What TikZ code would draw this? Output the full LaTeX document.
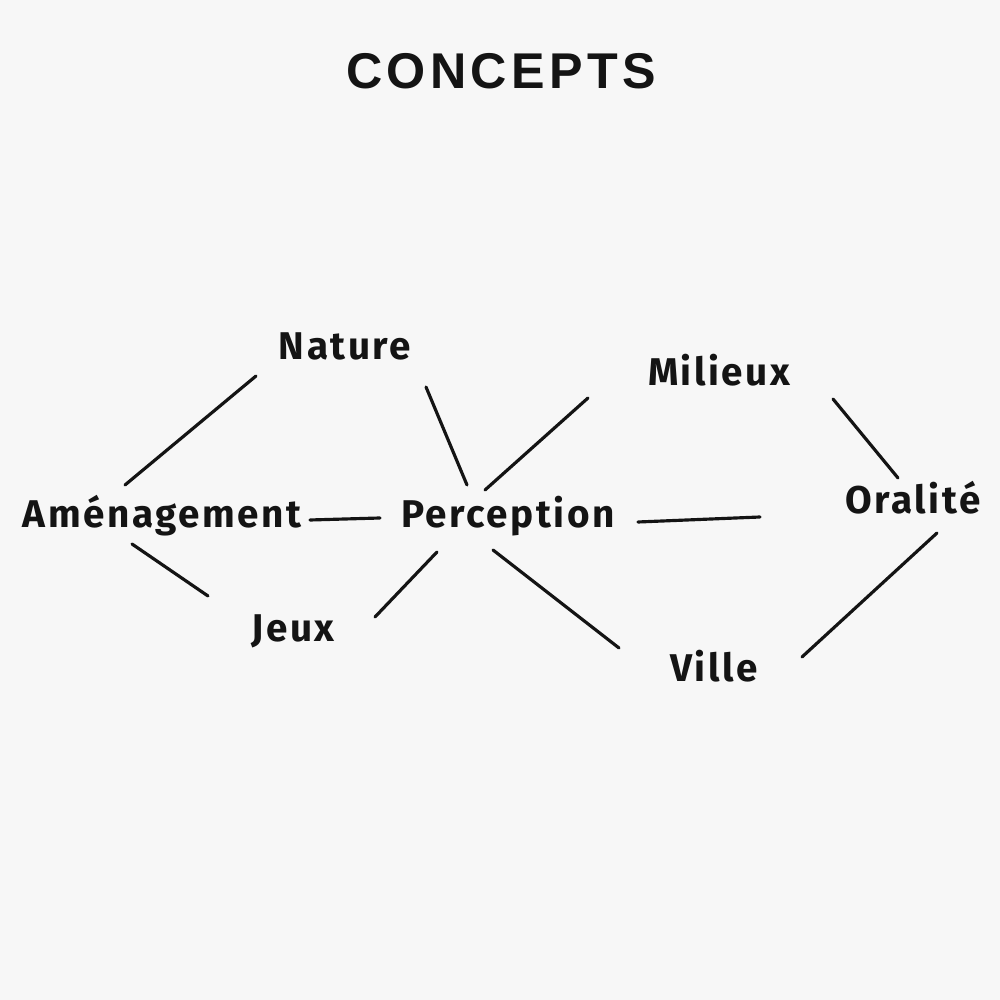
\documentclass[tikz,border=0pt]{standalone}
\usepackage{fontspec}
\newfontfamily\titlefont[LetterSpace=8.5]{Liberation Sans}
\newfontfamily\conceptfont[LetterSpace=6.5]{Fira Sans}
\definecolor{paper}{HTML}{F7F7F7}
\definecolor{ink}{HTML}{141414}

\begin{document}
\begin{tikzpicture}[x=2cm, y=2cm, line width=1.8pt,
    concept/.style={anchor=base, inner sep=0pt, text=ink, font=\conceptfont\bfseries\fontsize{22}{22}\selectfont},
    link/.style={draw=ink, line cap=round}]
    \fill[paper] (0,0) rectangle (10,10);
    \useasboundingbox (0,0) rectangle (10,10);
    % Title
    \node[anchor=base, inner sep=0pt, text=ink, font=\titlefont\bfseries\fontsize{28.6}{30}\selectfont] (title) at (5.01,9.11) {CONCEPTS};
    % Nodes
    \node[concept] (nat) at (3.45,6.40) {Nature};
    \node[concept] (mil) at (7.19,6.14) {Milieux};
    \node[concept] (ame) at (1.62,4.72) {Aménagement};
    \node[concept] (per) at (5.08,4.72) {Perception};
    \node[concept] (ora) at (9.13,4.86) {Oralité};
    \node[concept] (jeu) at (2.93,3.58) {Jeux};
    \node[concept] (vil) at (7.14,3.18) {Ville};
    % Links
    \draw[link] ([shift={(-0.37,0.43)}]ame.base) -- ([shift={(-0.89,-0.16)}]nat.base);
    \draw[link] ([shift={(0.81,-0.27)}]nat.base) -- ([shift={(-0.41,0.43)}]per.base);
    \draw[link] ([shift={(-0.23,0.38)}]per.base) -- ([shift={(-1.31,-0.12)}]mil.base);
    \draw[link] ([shift={(1.48,0.08)}]ame.base) -- ([shift={(-1.28,0.10)}]per.base);
    \draw[link] ([shift={(1.30,0.06)}]per.base) -- ([shift={(-1.53,-0.03)}]ora.base);
    \draw[link] ([shift={(1.14,-0.13)}]mil.base) -- ([shift={(-0.15,0.36)}]ora.base);
    \draw[link] ([shift={(-0.30,-0.16)}]ame.base) -- ([shift={(-0.85,0.46)}]jeu.base);
    \draw[link] ([shift={(0.82,0.25)}]jeu.base) -- ([shift={(-0.71,-0.24)}]per.base);
    \draw[link] ([shift={(-0.15,-0.22)}]per.base) -- ([shift={(-0.95,0.34)}]vil.base);
    \draw[link] ([shift={(0.88,0.25)}]vil.base) -- ([shift={(0.24,-0.19)}]ora.base);
\end{tikzpicture}
\end{document}
